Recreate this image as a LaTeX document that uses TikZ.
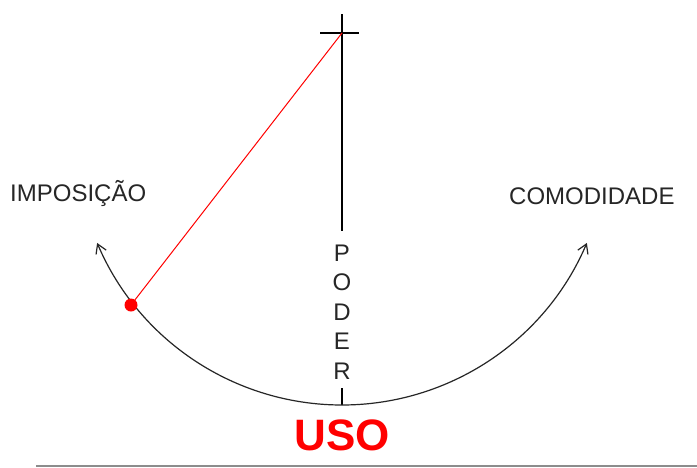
\documentclass[tikz,border=0pt]{standalone}
\usepackage{fontspec}
\setmainfont{Liberation Sans}
\usetikzlibrary{arrows.meta}
\begin{document}
\begin{tikzpicture}[x=1pt,y=-1pt,
  lbl/.style={font=\fontsize{24}{24}\selectfont, inner sep=0pt, text=black!85},
  axis/.style={draw=black, line width=1.3pt},
  arcline/.style={draw=black!85, line width=1.2pt},
  tipstyle/.style={-{Straight Barb[length=9pt,width=11pt,line width=1.2pt]}}]
\useasboundingbox (0,0) rectangle (697,467);
\fill[white] (0,0) rectangle (697,467);
% coordinates
\coordinate (top) at (342,14);
\coordinate (cross) at (342,33);
\coordinate (crossL) at (320,33);
\coordinate (crossR) at (359,33);
\coordinate (axisEnd) at (342,231);
\coordinate (tickTop) at (342,388);
\coordinate (bottom) at (342,405);
\coordinate (dotpt) at (131,305);
% labels
\node[lbl, anchor=west] (imp) at (10,194) {IMPOSIÇÃO};
\node[lbl, anchor=west] (com) at (509,196) {COMODIDADE};
\node[lbl, align=center, font=\fontsize{24}{29.5}\selectfont] (poder) at (342,312) {P\\O\\D\\E\\R};
\node[inner sep=0pt, text=red, font=\fontsize{44}{44}\bfseries] (uso) at (342,435) {USO};
% axis
\draw[axis] (top) -- (axisEnd);
\draw[axis] (crossL) -- (crossR);
\draw[axis] (tickTop) -- (bottom);
% arc
\draw[arcline, tipstyle] (bottom) arc[start angle=270, end angle=203, radius=266pt];
\draw[arcline, tipstyle] (bottom) arc[start angle=270, end angle=337, radius=266pt];
% red line and dot
\draw[red, line width=1pt] (cross) -- (dotpt);
\fill[red] (dotpt) circle[radius=6.5pt];
% bottom rule
\draw[black!45, line width=1.6pt] (36,466) -- (697,466);
\end{tikzpicture}
\end{document}
